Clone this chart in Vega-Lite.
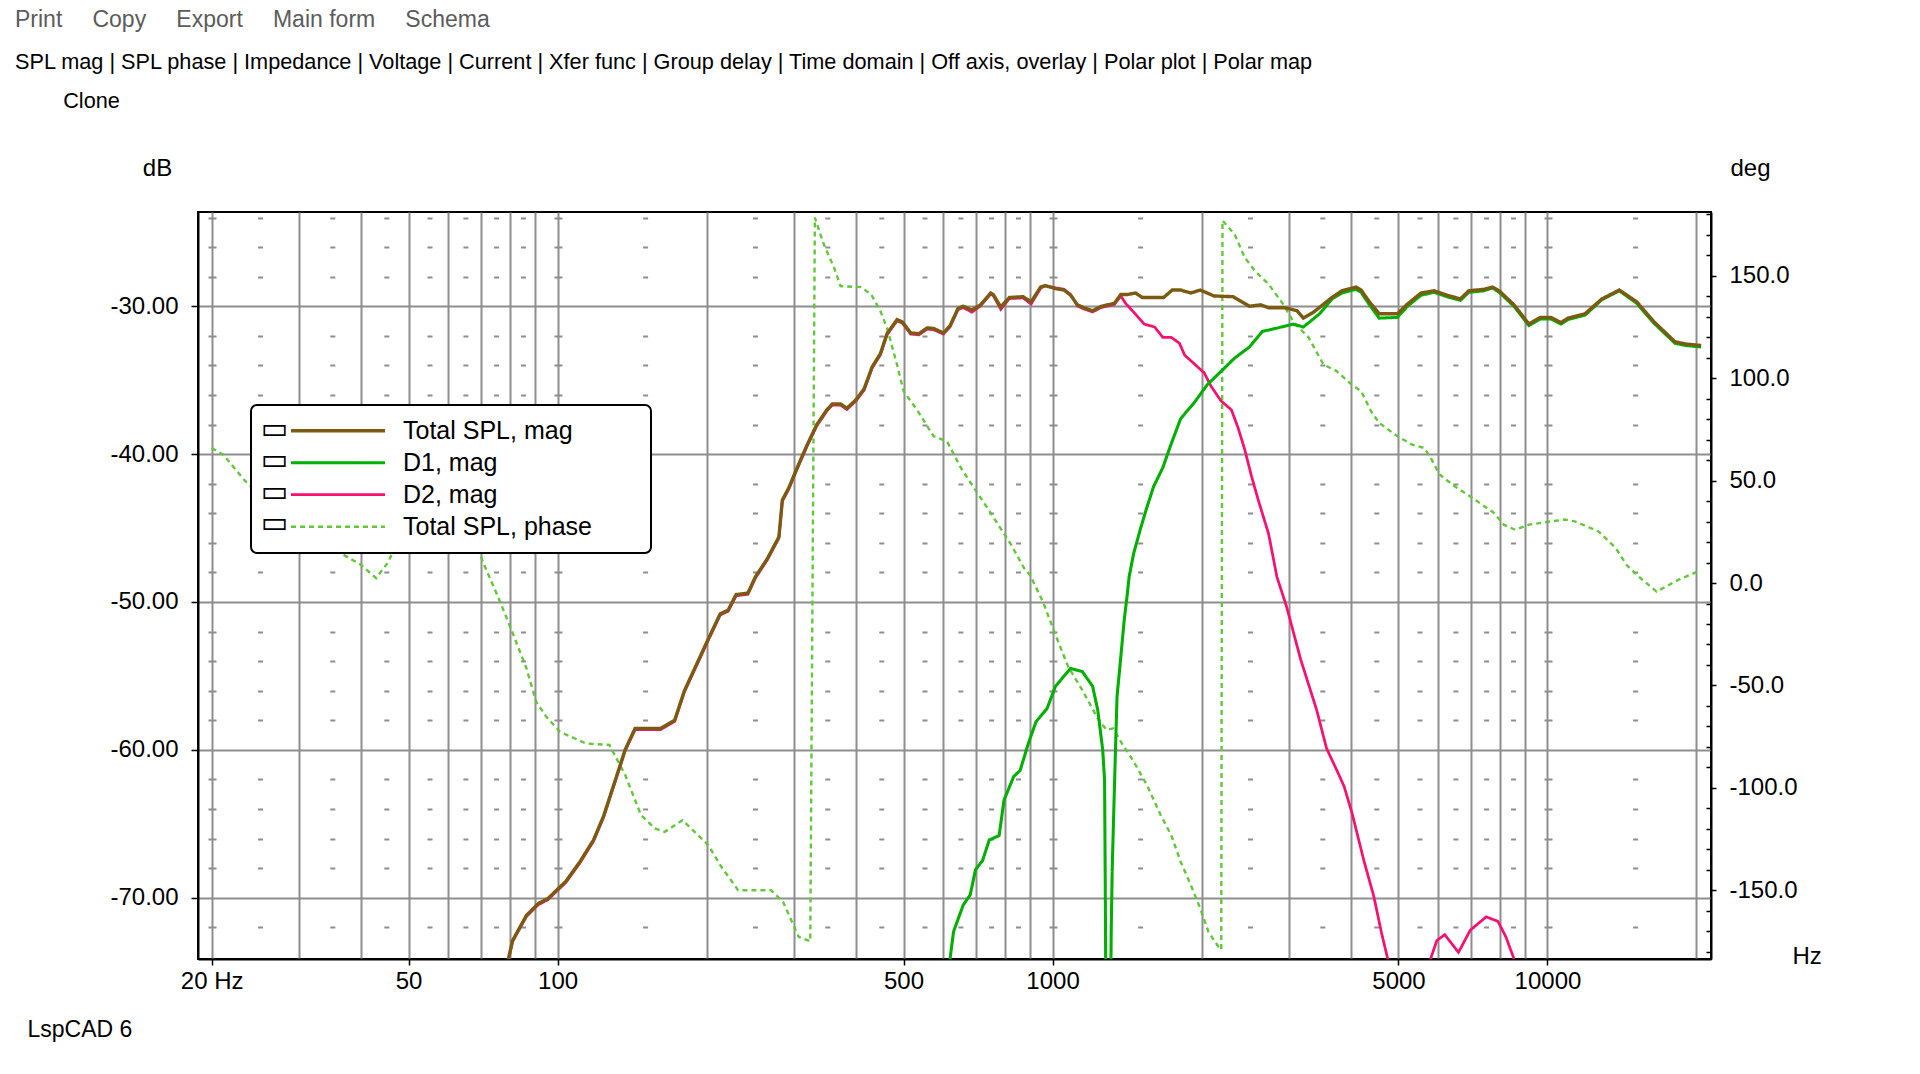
{
  "$schema": "https://vega.github.io/schema/vega-lite/v6.json",
  "description": "LspCAD 6 SPL magnitude plot: total, D1 and D2 magnitude (dB, left) with total SPL phase (deg, right)",
  "width": 1513,
  "height": 747,
  "autosize": {"type": "none"},
  "padding": {"left": 198, "top": 212, "right": 209, "bottom": 115},
  "background": "white",
  "title": {
    "text": "Print\u00a0\u00a0\u00a0\u00a0\u2009Copy\u00a0\u00a0\u00a0\u00a0\u2009Export\u00a0\u00a0\u00a0\u00a0\u2009Main form\u00a0\u00a0\u00a0\u00a0\u2009Schema",
    "subtitle": [
      "SPL mag | SPL phase | Impedance | Voltage | Current | Xfer func | Group delay | Time domain | Off axis, overlay | Polar plot | Polar map",
      "\u200b\u00a0\u00a0\u00a0\u00a0\u00a0\u00a0\u00a0\u00a0Clone"
    ],
    "anchor": "start",
    "frame": "group",
    "orient": "top",
    "dx": -183,
    "offset": 43,
    "font": "Liberation Sans",
    "fontSize": 23,
    "fontWeight": "normal",
    "color": "#5c5c5c",
    "subtitleFont": "Liberation Sans",
    "subtitleFontSize": 21.7,
    "subtitleColor": "black",
    "subtitleLineHeight": 39,
    "subtitlePadding": 20
  },
  "config": {
    "view": {"stroke": "black", "strokeWidth": 2},
    "axis": {
      "labelFont": "Liberation Sans",
      "titleFont": "Liberation Sans",
      "labelFontSize": 24,
      "titleFontSize": 24,
      "titleFontWeight": "normal",
      "labelColor": "black",
      "titleColor": "black",
      "domainColor": "black",
      "domainWidth": 2,
      "tickColor": "black",
      "tickWidth": 1.5,
      "gridColor": "#8e8e8e",
      "gridWidth": 2,
      "gridOpacity": 1,
      "labelOverlap": false,
      "labelFlush": false
    },
    "legend": {"strokeWidth": 2}
  },
  "datasets": {
    "mag": [
      {"f": 76, "db": -76, "series": "Total SPL, mag"},
      {"f": 79.6, "db": -74.1, "series": "Total SPL, mag"},
      {"f": 81.1, "db": -72.9, "series": "Total SPL, mag"},
      {"f": 86.5, "db": -71.2, "series": "Total SPL, mag"},
      {"f": 91.4, "db": -70.4, "series": "Total SPL, mag"},
      {"f": 95.7, "db": -70.05, "series": "Total SPL, mag"},
      {"f": 100.2, "db": -69.4, "series": "Total SPL, mag"},
      {"f": 103.9, "db": -68.9, "series": "Total SPL, mag"},
      {"f": 110.8, "db": -67.6, "series": "Total SPL, mag"},
      {"f": 118.2, "db": -66.1, "series": "Total SPL, mag"},
      {"f": 123.8, "db": -64.5, "series": "Total SPL, mag"},
      {"f": 130.8, "db": -62.05, "series": "Total SPL, mag"},
      {"f": 136.9, "db": -60.0, "series": "Total SPL, mag"},
      {"f": 143.4, "db": -58.55, "series": "Total SPL, mag"},
      {"f": 161.6, "db": -58.55, "series": "Total SPL, mag"},
      {"f": 172.4, "db": -58.0, "series": "Total SPL, mag"},
      {"f": 180.4, "db": -56.0, "series": "Total SPL, mag"},
      {"f": 201.6, "db": -52.5, "series": "Total SPL, mag"},
      {"f": 213.1, "db": -50.8, "series": "Total SPL, mag"},
      {"f": 221.1, "db": -50.55, "series": "Total SPL, mag"},
      {"f": 229.4, "db": -49.5, "series": "Total SPL, mag"},
      {"f": 242.4, "db": -49.4, "series": "Total SPL, mag"},
      {"f": 251, "db": -48.3, "series": "Total SPL, mag"},
      {"f": 265, "db": -47.1, "series": "Total SPL, mag"},
      {"f": 280, "db": -45.6, "series": "Total SPL, mag"},
      {"f": 284.5, "db": -43.1, "series": "Total SPL, mag"},
      {"f": 293, "db": -42.3, "series": "Total SPL, mag"},
      {"f": 305, "db": -40.9, "series": "Total SPL, mag"},
      {"f": 319, "db": -39.4, "series": "Total SPL, mag"},
      {"f": 334, "db": -38.0, "series": "Total SPL, mag"},
      {"f": 350, "db": -37.0, "series": "Total SPL, mag"},
      {"f": 359, "db": -36.6, "series": "Total SPL, mag"},
      {"f": 373, "db": -36.6, "series": "Total SPL, mag"},
      {"f": 384, "db": -36.9, "series": "Total SPL, mag"},
      {"f": 400, "db": -36.35, "series": "Total SPL, mag"},
      {"f": 416, "db": -35.6, "series": "Total SPL, mag"},
      {"f": 432, "db": -34.1, "series": "Total SPL, mag"},
      {"f": 449, "db": -33.2, "series": "Total SPL, mag"},
      {"f": 463, "db": -31.85, "series": "Total SPL, mag"},
      {"f": 485, "db": -30.9, "series": "Total SPL, mag"},
      {"f": 497, "db": -31.05, "series": "Total SPL, mag"},
      {"f": 517, "db": -31.8, "series": "Total SPL, mag"},
      {"f": 537, "db": -31.85, "series": "Total SPL, mag"},
      {"f": 558, "db": -31.46, "series": "Total SPL, mag"},
      {"f": 575, "db": -31.5, "series": "Total SPL, mag"},
      {"f": 602, "db": -31.8, "series": "Total SPL, mag"},
      {"f": 621, "db": -31.3, "series": "Total SPL, mag"},
      {"f": 644, "db": -30.15, "series": "Total SPL, mag"},
      {"f": 660, "db": -30.0, "series": "Total SPL, mag"},
      {"f": 687, "db": -30.25, "series": "Total SPL, mag"},
      {"f": 715, "db": -29.9, "series": "Total SPL, mag"},
      {"f": 750, "db": -29.1, "series": "Total SPL, mag"},
      {"f": 759, "db": -29.2, "series": "Total SPL, mag"},
      {"f": 786, "db": -30.05, "series": "Total SPL, mag"},
      {"f": 818, "db": -29.4, "series": "Total SPL, mag"},
      {"f": 872, "db": -29.35, "series": "Total SPL, mag"},
      {"f": 905, "db": -29.7, "series": "Total SPL, mag"},
      {"f": 946, "db": -28.7, "series": "Total SPL, mag"},
      {"f": 966, "db": -28.6, "series": "Total SPL, mag"},
      {"f": 1014, "db": -28.8, "series": "Total SPL, mag"},
      {"f": 1055, "db": -28.9, "series": "Total SPL, mag"},
      {"f": 1088, "db": -29.25, "series": "Total SPL, mag"},
      {"f": 1123, "db": -29.9, "series": "Total SPL, mag"},
      {"f": 1158, "db": -30.1, "series": "Total SPL, mag"},
      {"f": 1205, "db": -30.3, "series": "Total SPL, mag"},
      {"f": 1254, "db": -30.0, "series": "Total SPL, mag"},
      {"f": 1333, "db": -29.8, "series": "Total SPL, mag"},
      {"f": 1374, "db": -29.2, "series": "Total SPL, mag"},
      {"f": 1417, "db": -29.2, "series": "Total SPL, mag"},
      {"f": 1471, "db": -29.1, "series": "Total SPL, mag"},
      {"f": 1518, "db": -29.4, "series": "Total SPL, mag"},
      {"f": 1677, "db": -29.4, "series": "Total SPL, mag"},
      {"f": 1745, "db": -28.9, "series": "Total SPL, mag"},
      {"f": 1815, "db": -28.9, "series": "Total SPL, mag"},
      {"f": 1903, "db": -29.1, "series": "Total SPL, mag"},
      {"f": 1989, "db": -28.9, "series": "Total SPL, mag"},
      {"f": 2120, "db": -29.3, "series": "Total SPL, mag"},
      {"f": 2317, "db": -29.35, "series": "Total SPL, mag"},
      {"f": 2500, "db": -30.0, "series": "Total SPL, mag"},
      {"f": 2635, "db": -29.9, "series": "Total SPL, mag"},
      {"f": 2733, "db": -30.1, "series": "Total SPL, mag"},
      {"f": 2951, "db": -30.1, "series": "Total SPL, mag"},
      {"f": 3120, "db": -30.3, "series": "Total SPL, mag"},
      {"f": 3212, "db": -30.8, "series": "Total SPL, mag"},
      {"f": 3366, "db": -30.4, "series": "Total SPL, mag"},
      {"f": 3670, "db": -29.4, "series": "Total SPL, mag"},
      {"f": 3843, "db": -28.95, "series": "Total SPL, mag"},
      {"f": 4106, "db": -28.7, "series": "Total SPL, mag"},
      {"f": 4202, "db": -28.9, "series": "Total SPL, mag"},
      {"f": 4368, "db": -29.7, "series": "Total SPL, mag"},
      {"f": 4571, "db": -30.5, "series": "Total SPL, mag"},
      {"f": 4975, "db": -30.5, "series": "Total SPL, mag"},
      {"f": 5211, "db": -29.85, "series": "Total SPL, mag"},
      {"f": 5553, "db": -29.1, "series": "Total SPL, mag"},
      {"f": 5901, "db": -28.95, "series": "Total SPL, mag"},
      {"f": 6269, "db": -29.25, "series": "Total SPL, mag"},
      {"f": 6669, "db": -29.5, "series": "Total SPL, mag"},
      {"f": 6934, "db": -28.95, "series": "Total SPL, mag"},
      {"f": 7441, "db": -28.85, "series": "Total SPL, mag"},
      {"f": 7739, "db": -28.7, "series": "Total SPL, mag"},
      {"f": 7988, "db": -28.95, "series": "Total SPL, mag"},
      {"f": 8558, "db": -29.9, "series": "Total SPL, mag"},
      {"f": 9173, "db": -31.2, "series": "Total SPL, mag"},
      {"f": 9678, "db": -30.75, "series": "Total SPL, mag"},
      {"f": 10160, "db": -30.75, "series": "Total SPL, mag"},
      {"f": 10650, "db": -31.1, "series": "Total SPL, mag"},
      {"f": 11000, "db": -30.8, "series": "Total SPL, mag"},
      {"f": 11910, "db": -30.5, "series": "Total SPL, mag"},
      {"f": 12880, "db": -29.5, "series": "Total SPL, mag"},
      {"f": 13970, "db": -28.9, "series": "Total SPL, mag"},
      {"f": 15150, "db": -29.7, "series": "Total SPL, mag"},
      {"f": 16420, "db": -31.05, "series": "Total SPL, mag"},
      {"f": 18100, "db": -32.4, "series": "Total SPL, mag"},
      {"f": 19010, "db": -32.55, "series": "Total SPL, mag"},
      {"f": 20440, "db": -32.65, "series": "Total SPL, mag"},

      {"f": 600, "db": -76, "series": "D1, mag"},
      {"f": 621, "db": -74.1, "series": "D1, mag"},
      {"f": 631, "db": -72.3, "series": "D1, mag"},
      {"f": 660, "db": -70.5, "series": "D1, mag"},
      {"f": 682, "db": -69.8, "series": "D1, mag"},
      {"f": 699, "db": -68.1, "series": "D1, mag"},
      {"f": 722, "db": -67.5, "series": "D1, mag"},
      {"f": 745, "db": -66.1, "series": "D1, mag"},
      {"f": 780, "db": -65.8, "series": "D1, mag"},
      {"f": 798, "db": -63.4, "series": "D1, mag"},
      {"f": 835, "db": -61.8, "series": "D1, mag"},
      {"f": 860, "db": -61.4, "series": "D1, mag"},
      {"f": 893, "db": -59.6, "series": "D1, mag"},
      {"f": 926, "db": -58.1, "series": "D1, mag"},
      {"f": 975, "db": -57.2, "series": "D1, mag"},
      {"f": 1014, "db": -55.7, "series": "D1, mag"},
      {"f": 1087, "db": -54.5, "series": "D1, mag"},
      {"f": 1148, "db": -54.7, "series": "D1, mag"},
      {"f": 1205, "db": -55.7, "series": "D1, mag"},
      {"f": 1234, "db": -57.3, "series": "D1, mag"},
      {"f": 1263, "db": -60.0, "series": "D1, mag"},
      {"f": 1274, "db": -62.05, "series": "D1, mag"},
      {"f": 1278, "db": -69.0, "series": "D1, mag"},
      {"f": 1283, "db": -80, "series": "D1, mag"},
      {"f": 1296, "db": -90, "series": "D1, mag"},
      {"f": 1308, "db": -80, "series": "D1, mag"},
      {"f": 1314, "db": -72.2, "series": "D1, mag"},
      {"f": 1320, "db": -68.1, "series": "D1, mag"},
      {"f": 1330, "db": -64.0, "series": "D1, mag"},
      {"f": 1340, "db": -60.1, "series": "D1, mag"},
      {"f": 1350, "db": -56.4, "series": "D1, mag"},
      {"f": 1374, "db": -53.7, "series": "D1, mag"},
      {"f": 1396, "db": -51.2, "series": "D1, mag"},
      {"f": 1414, "db": -49.65, "series": "D1, mag"},
      {"f": 1428, "db": -48.3, "series": "D1, mag"},
      {"f": 1459, "db": -46.7, "series": "D1, mag"},
      {"f": 1504, "db": -45.1, "series": "D1, mag"},
      {"f": 1551, "db": -43.6, "series": "D1, mag"},
      {"f": 1600, "db": -42.2, "series": "D1, mag"},
      {"f": 1671, "db": -40.9, "series": "D1, mag"},
      {"f": 1737, "db": -39.3, "series": "D1, mag"},
      {"f": 1815, "db": -37.6, "series": "D1, mag"},
      {"f": 1935, "db": -36.5, "series": "D1, mag"},
      {"f": 2055, "db": -35.3, "series": "D1, mag"},
      {"f": 2190, "db": -34.4, "series": "D1, mag"},
      {"f": 2333, "db": -33.5, "series": "D1, mag"},
      {"f": 2500, "db": -32.75, "series": "D1, mag"},
      {"f": 2654, "db": -31.7, "series": "D1, mag"},
      {"f": 2820, "db": -31.5, "series": "D1, mag"},
      {"f": 3060, "db": -31.2, "series": "D1, mag"},
      {"f": 3212, "db": -31.4, "series": "D1, mag"},
      {"f": 3466, "db": -30.5, "series": "D1, mag"},
      {"f": 3670, "db": -29.5, "series": "D1, mag"},
      {"f": 3843, "db": -29.1, "series": "D1, mag"},
      {"f": 4106, "db": -28.85, "series": "D1, mag"},
      {"f": 4202, "db": -29.05, "series": "D1, mag"},
      {"f": 4368, "db": -29.9, "series": "D1, mag"},
      {"f": 4571, "db": -30.8, "series": "D1, mag"},
      {"f": 4975, "db": -30.75, "series": "D1, mag"},
      {"f": 5211, "db": -30.0, "series": "D1, mag"},
      {"f": 5553, "db": -29.25, "series": "D1, mag"},
      {"f": 5901, "db": -29.05, "series": "D1, mag"},
      {"f": 6269, "db": -29.35, "series": "D1, mag"},
      {"f": 6669, "db": -29.6, "series": "D1, mag"},
      {"f": 6934, "db": -29.05, "series": "D1, mag"},
      {"f": 7441, "db": -28.95, "series": "D1, mag"},
      {"f": 7739, "db": -28.75, "series": "D1, mag"},
      {"f": 7988, "db": -29.05, "series": "D1, mag"},
      {"f": 8558, "db": -30.0, "series": "D1, mag"},
      {"f": 9173, "db": -31.3, "series": "D1, mag"},
      {"f": 9678, "db": -30.85, "series": "D1, mag"},
      {"f": 10160, "db": -30.85, "series": "D1, mag"},
      {"f": 10650, "db": -31.2, "series": "D1, mag"},
      {"f": 11000, "db": -30.9, "series": "D1, mag"},
      {"f": 11910, "db": -30.6, "series": "D1, mag"},
      {"f": 12880, "db": -29.55, "series": "D1, mag"},
      {"f": 13970, "db": -28.95, "series": "D1, mag"},
      {"f": 15150, "db": -29.8, "series": "D1, mag"},
      {"f": 16420, "db": -31.15, "series": "D1, mag"},
      {"f": 18100, "db": -32.5, "series": "D1, mag"},
      {"f": 19010, "db": -32.65, "series": "D1, mag"},
      {"f": 20440, "db": -32.75, "series": "D1, mag"},

      {"f": 76, "db": -76.1, "series": "D2, mag"},
      {"f": 79.6, "db": -74.18, "series": "D2, mag"},
      {"f": 81.1, "db": -72.98, "series": "D2, mag"},
      {"f": 86.5, "db": -71.28, "series": "D2, mag"},
      {"f": 91.4, "db": -70.48, "series": "D2, mag"},
      {"f": 95.7, "db": -70.13, "series": "D2, mag"},
      {"f": 100.2, "db": -69.48, "series": "D2, mag"},
      {"f": 103.9, "db": -68.98, "series": "D2, mag"},
      {"f": 110.8, "db": -67.68, "series": "D2, mag"},
      {"f": 118.2, "db": -66.18, "series": "D2, mag"},
      {"f": 123.8, "db": -64.58, "series": "D2, mag"},
      {"f": 130.8, "db": -62.13, "series": "D2, mag"},
      {"f": 136.9, "db": -60.08, "series": "D2, mag"},
      {"f": 143.4, "db": -58.63, "series": "D2, mag"},
      {"f": 161.6, "db": -58.63, "series": "D2, mag"},
      {"f": 172.4, "db": -58.08, "series": "D2, mag"},
      {"f": 180.4, "db": -56.08, "series": "D2, mag"},
      {"f": 201.6, "db": -52.58, "series": "D2, mag"},
      {"f": 213.1, "db": -50.88, "series": "D2, mag"},
      {"f": 221.1, "db": -50.63, "series": "D2, mag"},
      {"f": 229.4, "db": -49.58, "series": "D2, mag"},
      {"f": 242.4, "db": -49.48, "series": "D2, mag"},
      {"f": 251, "db": -48.38, "series": "D2, mag"},
      {"f": 265, "db": -47.18, "series": "D2, mag"},
      {"f": 280, "db": -45.68, "series": "D2, mag"},
      {"f": 284.5, "db": -43.18, "series": "D2, mag"},
      {"f": 293, "db": -42.38, "series": "D2, mag"},
      {"f": 305, "db": -40.98, "series": "D2, mag"},
      {"f": 319, "db": -39.48, "series": "D2, mag"},
      {"f": 334, "db": -38.08, "series": "D2, mag"},
      {"f": 350, "db": -37.08, "series": "D2, mag"},
      {"f": 359, "db": -36.68, "series": "D2, mag"},
      {"f": 373, "db": -36.68, "series": "D2, mag"},
      {"f": 384, "db": -36.98, "series": "D2, mag"},
      {"f": 400, "db": -36.43, "series": "D2, mag"},
      {"f": 416, "db": -35.68, "series": "D2, mag"},
      {"f": 432, "db": -34.18, "series": "D2, mag"},
      {"f": 449, "db": -33.28, "series": "D2, mag"},
      {"f": 463, "db": -31.93, "series": "D2, mag"},
      {"f": 485, "db": -30.98, "series": "D2, mag"},
      {"f": 497, "db": -31.13, "series": "D2, mag"},
      {"f": 517, "db": -31.88, "series": "D2, mag"},
      {"f": 537, "db": -31.93, "series": "D2, mag"},
      {"f": 558, "db": -31.54, "series": "D2, mag"},
      {"f": 575, "db": -31.58, "series": "D2, mag"},
      {"f": 602, "db": -31.88, "series": "D2, mag"},
      {"f": 621, "db": -31.38, "series": "D2, mag"},
      {"f": 644, "db": -30.23, "series": "D2, mag"},
      {"f": 660, "db": -30.08, "series": "D2, mag"},
      {"f": 687, "db": -30.4, "series": "D2, mag"},
      {"f": 715, "db": -29.98, "series": "D2, mag"},
      {"f": 750, "db": -29.18, "series": "D2, mag"},
      {"f": 759, "db": -29.28, "series": "D2, mag"},
      {"f": 786, "db": -30.2, "series": "D2, mag"},
      {"f": 818, "db": -29.48, "series": "D2, mag"},
      {"f": 872, "db": -29.43, "series": "D2, mag"},
      {"f": 905, "db": -29.85, "series": "D2, mag"},
      {"f": 946, "db": -28.78, "series": "D2, mag"},
      {"f": 966, "db": -28.6, "series": "D2, mag"},
      {"f": 1014, "db": -28.75, "series": "D2, mag"},
      {"f": 1055, "db": -28.85, "series": "D2, mag"},
      {"f": 1088, "db": -29.2, "series": "D2, mag"},
      {"f": 1123, "db": -29.98, "series": "D2, mag"},
      {"f": 1158, "db": -30.18, "series": "D2, mag"},
      {"f": 1205, "db": -30.38, "series": "D2, mag"},
      {"f": 1254, "db": -30.08, "series": "D2, mag"},
      {"f": 1333, "db": -29.88, "series": "D2, mag"},
      {"f": 1374, "db": -29.3, "series": "D2, mag"},
      {"f": 1405, "db": -29.8, "series": "D2, mag"},
      {"f": 1459, "db": -30.4, "series": "D2, mag"},
      {"f": 1531, "db": -31.2, "series": "D2, mag"},
      {"f": 1608, "db": -31.4, "series": "D2, mag"},
      {"f": 1671, "db": -32.1, "series": "D2, mag"},
      {"f": 1737, "db": -32.1, "series": "D2, mag"},
      {"f": 1805, "db": -32.5, "series": "D2, mag"},
      {"f": 1849, "db": -33.3, "series": "D2, mag"},
      {"f": 1935, "db": -33.9, "series": "D2, mag"},
      {"f": 2025, "db": -34.5, "series": "D2, mag"},
      {"f": 2090, "db": -35.4, "series": "D2, mag"},
      {"f": 2190, "db": -36.4, "series": "D2, mag"},
      {"f": 2298, "db": -37.0, "series": "D2, mag"},
      {"f": 2370, "db": -38.2, "series": "D2, mag"},
      {"f": 2446, "db": -39.7, "series": "D2, mag"},
      {"f": 2524, "db": -41.5, "series": "D2, mag"},
      {"f": 2604, "db": -43.1, "series": "D2, mag"},
      {"f": 2733, "db": -45.4, "series": "D2, mag"},
      {"f": 2840, "db": -48.3, "series": "D2, mag"},
      {"f": 2970, "db": -50.3, "series": "D2, mag"},
      {"f": 3173, "db": -53.9, "series": "D2, mag"},
      {"f": 3417, "db": -57.3, "series": "D2, mag"},
      {"f": 3578, "db": -59.9, "series": "D2, mag"},
      {"f": 3779, "db": -61.6, "series": "D2, mag"},
      {"f": 3885, "db": -62.5, "series": "D2, mag"},
      {"f": 4030, "db": -64.3, "series": "D2, mag"},
      {"f": 4257, "db": -67.5, "series": "D2, mag"},
      {"f": 4457, "db": -69.9, "series": "D2, mag"},
      {"f": 4622, "db": -72.4, "series": "D2, mag"},
      {"f": 4753, "db": -74.1, "series": "D2, mag"},
      {"f": 4900, "db": -80, "series": "D2, mag"},
      {"f": 5600, "db": -80, "series": "D2, mag"},
      {"f": 5811, "db": -74.1, "series": "D2, mag"},
      {"f": 5978, "db": -72.9, "series": "D2, mag"},
      {"f": 6200, "db": -72.5, "series": "D2, mag"},
      {"f": 6610, "db": -73.7, "series": "D2, mag"},
      {"f": 6983, "db": -72.2, "series": "D2, mag"},
      {"f": 7520, "db": -71.3, "series": "D2, mag"},
      {"f": 7940, "db": -71.6, "series": "D2, mag"},
      {"f": 8240, "db": -72.65, "series": "D2, mag"},
      {"f": 8550, "db": -74.1, "series": "D2, mag"},
      {"f": 8800, "db": -80, "series": "D2, mag"}
    ],
    "phase": [
      {"f": 20, "deg": 66, "series": "Total SPL, phase"},
      {"f": 21.1, "deg": 62.7, "series": "Total SPL, phase"},
      {"f": 23.4, "deg": 49.7, "series": "Total SPL, phase"},
      {"f": 26, "deg": 40, "series": "Total SPL, phase"},
      {"f": 30, "deg": 28, "series": "Total SPL, phase"},
      {"f": 35, "deg": 17, "series": "Total SPL, phase"},
      {"f": 40, "deg": 9, "series": "Total SPL, phase"},
      {"f": 43, "deg": 2.4, "series": "Total SPL, phase"},
      {"f": 45.4, "deg": 10, "series": "Total SPL, phase"},
      {"f": 48, "deg": 22, "series": "Total SPL, phase"},
      {"f": 60, "deg": 23, "series": "Total SPL, phase"},
      {"f": 68, "deg": 21, "series": "Total SPL, phase"},
      {"f": 71, "deg": 9, "series": "Total SPL, phase"},
      {"f": 76, "deg": -7.4, "series": "Total SPL, phase"},
      {"f": 80.4, "deg": -22, "series": "Total SPL, phase"},
      {"f": 86.5, "deg": -41.6, "series": "Total SPL, phase"},
      {"f": 90.5, "deg": -57.9, "series": "Total SPL, phase"},
      {"f": 94.8, "deg": -65.2, "series": "Total SPL, phase"},
      {"f": 101.1, "deg": -72.6, "series": "Total SPL, phase"},
      {"f": 113.9, "deg": -78.3, "series": "Total SPL, phase"},
      {"f": 127.3, "deg": -79.1, "series": "Total SPL, phase"},
      {"f": 137, "deg": -93.8, "series": "Total SPL, phase"},
      {"f": 147.4, "deg": -113.3, "series": "Total SPL, phase"},
      {"f": 157.3, "deg": -119.8, "series": "Total SPL, phase"},
      {"f": 164.6, "deg": -121.5, "series": "Total SPL, phase"},
      {"f": 178.8, "deg": -115.8, "series": "Total SPL, phase"},
      {"f": 201.6, "deg": -128, "series": "Total SPL, phase"},
      {"f": 213.1, "deg": -137.8, "series": "Total SPL, phase"},
      {"f": 231.6, "deg": -150, "series": "Total SPL, phase"},
      {"f": 270, "deg": -150, "series": "Total SPL, phase"},
      {"f": 285.5, "deg": -155.7, "series": "Total SPL, phase"},
      {"f": 307, "deg": -172.8, "series": "Total SPL, phase"},
      {"f": 324, "deg": -175, "series": "Total SPL, phase"},
      {"f": 331, "deg": 178.5, "series": "Total SPL, phase"},
      {"f": 345, "deg": 165.4, "series": "Total SPL, phase"},
      {"f": 362, "deg": 154, "series": "Total SPL, phase"},
      {"f": 373, "deg": 145, "series": "Total SPL, phase"},
      {"f": 410, "deg": 144.5, "series": "Total SPL, phase"},
      {"f": 430, "deg": 141, "series": "Total SPL, phase"},
      {"f": 449, "deg": 132.8, "series": "Total SPL, phase"},
      {"f": 463, "deg": 124.6, "series": "Total SPL, phase"},
      {"f": 485, "deg": 106.7, "series": "Total SPL, phase"},
      {"f": 500, "deg": 93.7, "series": "Total SPL, phase"},
      {"f": 532, "deg": 84.7, "series": "Total SPL, phase"},
      {"f": 575, "deg": 71.7, "series": "Total SPL, phase"},
      {"f": 612, "deg": 69.2, "series": "Total SPL, phase"},
      {"f": 653, "deg": 56.2, "series": "Total SPL, phase"},
      {"f": 694, "deg": 46.4, "series": "Total SPL, phase"},
      {"f": 750, "deg": 34.2, "series": "Total SPL, phase"},
      {"f": 825, "deg": 18.7, "series": "Total SPL, phase"},
      {"f": 876, "deg": 7.3, "series": "Total SPL, phase"},
      {"f": 900, "deg": 4, "series": "Total SPL, phase"},
      {"f": 956, "deg": -9, "series": "Total SPL, phase"},
      {"f": 1014, "deg": -25.3, "series": "Total SPL, phase"},
      {"f": 1075, "deg": -40.8, "series": "Total SPL, phase"},
      {"f": 1148, "deg": -52.2, "series": "Total SPL, phase"},
      {"f": 1234, "deg": -66.1, "series": "Total SPL, phase"},
      {"f": 1285, "deg": -71.7, "series": "Total SPL, phase"},
      {"f": 1326, "deg": -71, "series": "Total SPL, phase"},
      {"f": 1374, "deg": -77.5, "series": "Total SPL, phase"},
      {"f": 1459, "deg": -87.2, "series": "Total SPL, phase"},
      {"f": 1551, "deg": -98.6, "series": "Total SPL, phase"},
      {"f": 1654, "deg": -113.3, "series": "Total SPL, phase"},
      {"f": 1737, "deg": -123.1, "series": "Total SPL, phase"},
      {"f": 1815, "deg": -136.1, "series": "Total SPL, phase"},
      {"f": 1903, "deg": -147.5, "series": "Total SPL, phase"},
      {"f": 1989, "deg": -159, "series": "Total SPL, phase"},
      {"f": 2066, "deg": -170.4, "series": "Total SPL, phase"},
      {"f": 2165, "deg": -177.7, "series": "Total SPL, phase"},
      {"f": 2192, "deg": -179, "series": "Total SPL, phase"},
      {"f": 2205, "deg": 177, "series": "Total SPL, phase"},
      {"f": 2333, "deg": 170.3, "series": "Total SPL, phase"},
      {"f": 2446, "deg": 158.9, "series": "Total SPL, phase"},
      {"f": 2566, "deg": 152.4, "series": "Total SPL, phase"},
      {"f": 2733, "deg": 145.9, "series": "Total SPL, phase"},
      {"f": 2910, "deg": 136.9, "series": "Total SPL, phase"},
      {"f": 3077, "deg": 127.1, "series": "Total SPL, phase"},
      {"f": 3294, "deg": 119.8, "series": "Total SPL, phase"},
      {"f": 3526, "deg": 106.7, "series": "Total SPL, phase"},
      {"f": 3750, "deg": 103.5, "series": "Total SPL, phase"},
      {"f": 4016, "deg": 97, "series": "Total SPL, phase"},
      {"f": 4202, "deg": 93.7, "series": "Total SPL, phase"},
      {"f": 4401, "deg": 83.9, "series": "Total SPL, phase"},
      {"f": 4571, "deg": 78.2, "series": "Total SPL, phase"},
      {"f": 4975, "deg": 71.7, "series": "Total SPL, phase"},
      {"f": 5330, "deg": 67.6, "series": "Total SPL, phase"},
      {"f": 5630, "deg": 66, "series": "Total SPL, phase"},
      {"f": 5811, "deg": 61.1, "series": "Total SPL, phase"},
      {"f": 6053, "deg": 53, "series": "Total SPL, phase"},
      {"f": 6566, "deg": 46.4, "series": "Total SPL, phase"},
      {"f": 6983, "deg": 42.3, "series": "Total SPL, phase"},
      {"f": 7800, "deg": 34.2, "series": "Total SPL, phase"},
      {"f": 8160, "deg": 28.5, "series": "Total SPL, phase"},
      {"f": 8610, "deg": 26, "series": "Total SPL, phase"},
      {"f": 9173, "deg": 28.5, "series": "Total SPL, phase"},
      {"f": 10160, "deg": 30.1, "series": "Total SPL, phase"},
      {"f": 10830, "deg": 31, "series": "Total SPL, phase"},
      {"f": 11350, "deg": 30.1, "series": "Total SPL, phase"},
      {"f": 12680, "deg": 25.2, "series": "Total SPL, phase"},
      {"f": 13750, "deg": 17, "series": "Total SPL, phase"},
      {"f": 14440, "deg": 8.9, "series": "Total SPL, phase"},
      {"f": 15150, "deg": 4, "series": "Total SPL, phase"},
      {"f": 16610, "deg": -4.2, "series": "Total SPL, phase"},
      {"f": 18400, "deg": 1.6, "series": "Total SPL, phase"},
      {"f": 20170, "deg": 5.7, "series": "Total SPL, phase"}
    ]
  },
  "encoding": {
    "color": {
      "field": "series",
      "type": "nominal",
      "scale": {
        "domain": ["Total SPL, mag", "D1, mag", "D2, mag", "Total SPL, phase"],
        "range": ["#7b5b12", "#00b000", "#f8106f", "#62c83a"]
      },
      "legend": {
        "orient": "none",
        "legendX": 53,
        "legendY": 193,
        "direction": "vertical",
        "title": ["\u25ad", "\u25ad", "\u25ad", "\u25ad"],
        "titleOrient": "left",
        "titleFont": "DejaVu Sans",
        "titleFontSize": 29,
        "titleFontWeight": "bold",
        "titleColor": "black",
        "titleLineHeight": 31.4,
        "titleAnchor": "start",
        "titleBaseline": "top",
        "titlePadding": 0,
        "symbolType": "stroke",
        "symbolSize": 8836,
        "clipHeight": 31.4,
        "rowPadding": 0,
        "labelFont": "Liberation Sans",
        "labelFontSize": 25,
        "labelColor": "black",
        "labelOffset": 16,
        "labelLimit": 500,
        "labelExpr": "datum.label + '\u00a0\u00a0\u00a0\u00a0\u00a0\u00a0\u00a0\u200b'",
        "padding": 10,
        "strokeColor": "black",
        "cornerRadius": 6,
        "fillColor": "white"
      }
    },
    "strokeDash": {
      "field": "series",
      "type": "nominal",
      "scale": {
        "domain": ["Total SPL, mag", "D1, mag", "D2, mag", "Total SPL, phase"],
        "range": [[1, 0], [1, 0], [1, 0], [5, 4]]
      }
    },
    "strokeWidth": {
      "field": "series",
      "type": "nominal",
      "scale": {
        "domain": ["Total SPL, mag", "D1, mag", "D2, mag", "Total SPL, phase"],
        "range": [3.4, 2.4, 2.4, 1.4]
      }
    }
  },
  "layer": [
    {
      "data": {"name": "phase"},
      "mark": {"type": "line", "clip": true},
      "encoding": {
        "x": {
          "field": "f",
          "type": "quantitative",
          "scale": {"type": "log", "domain": [18.77, 21400], "nice": false},
          "axis": {
            "orient": "bottom",
            "grid": false,
            "labels": false,
            "ticks": false,
            "domain": false,
            "title": "LspCAD 6",
            "titleAngle": 0,
            "titleAlign": "left",
            "titleBaseline": "middle",
            "titleX": -171,
            "titleY": 70,
            "titleFontSize": 23
          }
        },
        "y": {
          "field": "deg",
          "type": "quantitative",
          "scale": {"domain": [-183.6, 181.2], "nice": false, "zero": false},
          "axis": {
            "orient": "right",
            "values": [-180, -170, -160, -150, -140, -130, -120, -110, -100, -90, -80, -70, -60, -50, -40, -30, -20, -10, 0, 10, 20, 30, 40, 50, 60, 70, 80, 90, 100, 110, 120, 130, 140, 150, 160, 170, 180],
            "labelExpr": "datum.value % 50 == 0 ? (datum.value < 0 ? '-' : '') + format(abs(datum.value), '.1f') : ''",
            "grid": false,
            "tickSize": {"condition": {"test": "datum.value % 50 != 0", "value": -5}, "value": 5},
            "labelPadding": 13,
            "title": "deg",
            "titleAngle": 0,
            "titleAlign": "center",
            "titleBaseline": "middle",
            "titleX": 39,
            "titleY": -44
          }
        }
      }
    },
    {
      "data": {"name": "mag"},
      "encoding": {
        "x": {
          "field": "f",
          "type": "quantitative",
          "scale": {"type": "log", "domain": [18.77, 21400], "nice": false},
          "axis": {
            "orient": "bottom",
            "values": [20, 30, 40, 50, 60, 70, 80, 90, 100, 200, 300, 400, 500, 600, 700, 800, 900, 1000, 2000, 3000, 4000, 5000, 6000, 7000, 8000, 9000, 10000, 20000],
            "labelExpr": "datum.value == 20 ? '20 Hz' : (indexof([50, 100, 500, 1000, 5000, 10000], datum.value) >= 0 ? format(datum.value, 'd') : '')",
            "grid": true,
            "tickSize": 6,
            "tickColor": {"condition": {"test": "indexof([20, 50, 100, 500, 1000, 5000, 10000], datum.value) < 0", "value": "transparent"}, "value": "black"},
            "labelPadding": 4,
            "title": "Hz",
            "titleAngle": 0,
            "titleAlign": "left",
            "titleBaseline": "middle",
            "titleX": 1594,
            "titleY": -3
          }
        },
        "y": {
          "field": "db",
          "type": "quantitative",
          "scale": {"domain": [-74.15, -23.62], "nice": false, "zero": false},
          "axis": {
            "orient": "left",
            "values": [-72, -70, -68, -66, -64, -62, -60, -58, -56, -54, -52, -50, -48, -46, -44, -42, -40, -38, -36, -34, -32, -30, -28, -26, -24],
            "labelExpr": "datum.value % 10 == 0 ? '-' + format(abs(datum.value), '.2f') : ''",
            "grid": true,
            "gridDash": {
              "condition": {
                "test": "datum.value % 10 != 0",
                "value": [0, 10, 8, 41.5, 5, 67.3, 5, 49, 5, 38.2, 5, 30.9, 5, 25.7, 5, 21.9, 5, 28.5, 8, 80.6, 5, 104.9, 5, 67.3, 5, 49, 5, 38.2, 5, 30.9, 5, 25.7, 5, 21.9, 5, 28.5, 8, 80.6, 5, 104.9, 5, 67.3, 5, 49, 5, 38.2, 5, 30.9, 5, 25.7, 5, 21.9, 5, 28.5, 8, 80.6, 5, 400]
              },
              "value": []
            },
            "tickSize": 7,
            "tickColor": {"condition": {"test": "datum.value % 10 != 0", "value": "transparent"}, "value": "black"},
            "labelPadding": 13,
            "title": "dB",
            "titleAngle": 0,
            "titleAlign": "center",
            "titleBaseline": "middle",
            "titleX": -41,
            "titleY": -44
          }
        }
      },
      "layer": [
        {
          "transform": [{"filter": "datum.series === 'D2, mag'"}],
          "mark": {"type": "line", "clip": true}
        },
        {
          "transform": [{"filter": "datum.series === 'D1, mag'"}],
          "mark": {"type": "line", "clip": true}
        },
        {
          "transform": [{"filter": "datum.series === 'Total SPL, mag'"}],
          "mark": {"type": "line", "clip": true}
        }
      ]
    }
  ],
  "resolve": {
    "scale": {"y": "independent"},
    "axis": {"x": "independent"}
  }
}
